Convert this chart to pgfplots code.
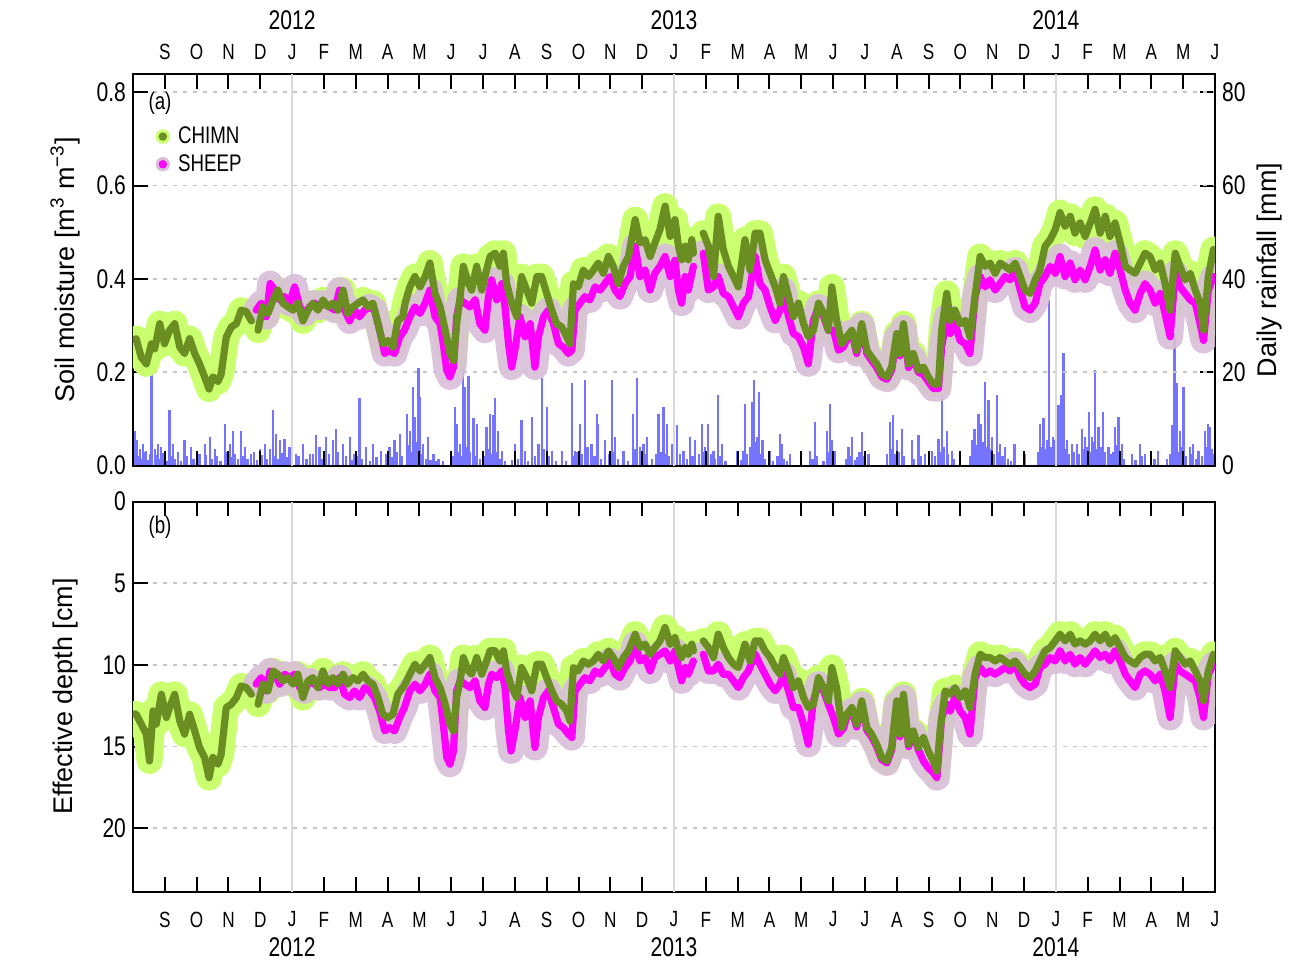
\documentclass[border=0pt]{standalone}
\usepackage{fontspec}
\setmainfont{Liberation Sans}[FakeStretch=0.78]
\newfontfamily\labfont{Liberation Sans}
\usepackage{pgfplots}
\usepackage{pgfplotstable}
\pgfplotsset{compat=1.18}
\definecolor{lgreen}{HTML}{CAFF70}
\definecolor{dgreen}{HTML}{6B8E23}
\definecolor{lpurple}{HTML}{D8BFD8}
\definecolor{mag}{HTML}{FF00FF}
\definecolor{rainblue}{HTML}{4646FF}

% CHIMN soil moisture (months since 1 Aug 2011)
\pgfplotstableread{
x y
0.05 0.27
0.10 0.272
0.26 0.232
0.42 0.218
0.58 0.261
0.68 0.25
0.84 0.304
0.99 0.261
1.15 0.29
1.31 0.304
1.47 0.254
1.62 0.24
1.78 0.272
1.94 0.24
2.09 0.218
2.25 0.19
2.39 0.164
2.51 0.19
2.67 0.18
2.77 0.196
2.93 0.275
3.09 0.297
3.25 0.304
3.40 0.333
3.56 0.33
3.72 0.31
3.80 nan
3.93 0.29
4.08 0.34
4.24 0.326
4.40 0.355
4.55 0.376
4.71 0.348
4.87 0.34
5.03 0.333
5.18 0.348
5.34 0.31
5.50 0.333
5.65 0.348
5.81 0.333
5.97 0.355
6.13 0.34
6.28 0.348
6.44 0.333
6.60 0.376
6.75 0.326
6.91 0.34
7.07 0.348
7.23 0.355
7.38 0.34
7.54 0.348
7.70 0.304
7.85 0.261
8.01 0.268
8.17 0.254
8.32 0.31
8.48 0.319
8.55 0.348
8.70 0.383
8.86 0.405
9.02 0.383
9.18 0.405
9.33 0.434
9.49 0.369
9.65 0.34
9.81 0.29
9.96 0.24
10.07 0.225
10.17 0.304
10.28 0.362
10.38 0.427
10.54 0.39
10.64 0.376
10.80 0.427
10.96 0.376
11.11 0.419
11.22 0.448
11.38 0.455
11.53 0.427
11.64 0.455
11.74 0.39
11.90 0.348
12.06 0.319
12.21 0.405
12.37 0.376
12.53 0.348
12.69 0.405
12.84 0.405
13.00 0.369
13.16 0.333
13.31 0.304
13.47 0.297
13.63 0.276
13.73 0.261
13.84 0.39
13.99 0.383
14.15 0.419
14.31 0.405
14.47 0.419
14.62 0.434
14.78 0.412
14.94 0.448
15.09 0.427
15.25 0.39
15.41 0.427
15.57 0.448
15.78 0.527
15.93 0.477
16.09 0.484
16.25 0.448
16.40 0.477
16.56 0.506
16.72 0.556
16.88 0.491
17.03 0.527
17.14 0.47
17.24 0.441
17.35 0.47
17.45 0.441
17.56 0.484
17.61 0.455
17.75 nan
17.92 0.498
18.08 0.47
18.24 0.405
18.39 0.534
18.55 0.463
18.71 0.427
18.87 0.405
19.02 0.383
19.23 0.484
19.39 0.419
19.55 0.498
19.70 0.498
19.86 0.441
20.02 0.412
20.18 0.383
20.33 0.348
20.44 0.405
20.60 0.362
20.75 0.319
20.91 0.348
21.07 0.304
21.22 0.276
21.38 0.29
21.54 0.348
21.70 0.326
21.85 0.29
21.96 0.383
22.11 0.311
22.27 0.261
22.43 0.276
22.59 0.29
22.74 0.247
22.90 0.304
23.06 0.247
23.21 0.232
23.37 0.218
23.53 0.196
23.69 0.19
23.84 0.211
24.00 0.283
24.10 0.24
24.21 0.304
24.37 0.218
24.52 0.24
24.68 0.204
24.84 0.211
24.99 0.19
25.15 0.175
25.31 0.175
25.41 0.29
25.57 0.369
25.68 0.311
25.83 0.333
25.99 0.304
26.15 0.311
26.30 0.276
26.46 0.362
26.62 0.448
26.78 0.427
26.93 0.434
27.09 0.412
27.25 0.434
27.40 0.427
27.56 0.419
27.72 0.434
27.88 0.405
28.03 0.376
28.19 0.369
28.35 0.398
28.50 0.419
28.66 0.47
28.82 0.484
28.98 0.506
29.13 0.542
29.29 0.513
29.45 0.534
29.60 0.498
29.76 0.52
29.92 0.491
30.08 0.52
30.23 0.549
30.39 0.498
30.55 0.534
30.70 0.491
30.86 0.52
31.02 0.477
31.18 0.427
31.33 0.419
31.49 0.412
31.65 0.434
31.80 0.455
31.96 0.448
32.12 0.419
32.28 0.434
32.43 0.39
32.59 0.333
32.75 0.455
32.90 0.427
33.06 0.398
33.22 0.412
33.38 0.376
33.53 0.348
33.64 0.29
33.79 0.405
33.95 0.463
}\chimnA

% SHEEP soil moisture
\pgfplotstableread{
x y
3.87 0.333
4.03 0.348
4.19 0.319
4.31 0.39
4.45 0.376
4.61 0.355
4.76 0.362
4.92 0.348
5.08 0.383
5.24 0.34
5.39 0.326
5.55 0.34
5.71 0.348
5.86 0.34
6.02 0.348
6.18 0.34
6.34 0.333
6.49 0.376
6.65 0.333
6.81 0.31
6.96 0.333
7.12 0.319
7.28 0.333
7.43 0.34
7.59 0.333
7.75 0.29
7.91 0.24
8.06 0.247
8.22 0.24
8.38 0.275
8.53 0.29
8.70 0.319
8.86 0.34
9.02 0.326
9.18 0.348
9.33 0.376
9.49 0.319
9.65 0.304
9.75 0.261
9.86 0.204
9.96 0.19
10.07 0.211
10.17 0.319
10.28 0.355
10.43 0.348
10.59 0.34
10.75 0.355
10.90 0.304
11.06 0.29
11.17 0.362
11.27 0.398
11.43 0.355
11.59 0.39
11.69 0.34
11.80 0.261
11.90 0.211
12.00 0.247
12.16 0.319
12.32 0.276
12.48 0.304
12.63 0.211
12.74 0.276
12.90 0.319
13.05 0.333
13.21 0.304
13.37 0.261
13.52 0.254
13.68 0.24
13.79 0.247
13.89 0.333
14.05 0.348
14.20 0.362
14.36 0.355
14.52 0.383
14.68 0.376
14.83 0.39
14.99 0.405
15.15 0.376
15.30 0.362
15.46 0.39
15.62 0.405
15.78 0.47
15.93 0.405
16.09 0.419
16.25 0.376
16.40 0.412
16.56 0.427
16.72 0.448
16.88 0.405
17.03 0.44
17.14 0.376
17.24 0.348
17.35 0.405
17.45 0.376
17.61 0.427
17.75 nan
17.92 0.455
18.08 0.376
18.24 0.383
18.39 0.405
18.55 0.369
18.71 0.362
18.87 0.34
19.02 0.319
19.18 0.348
19.34 0.362
19.55 0.448
19.70 0.39
19.86 0.376
20.02 0.34
20.18 0.311
20.33 0.333
20.44 0.376
20.60 0.319
20.75 0.283
20.91 0.276
21.07 0.254
21.22 0.218
21.38 0.311
21.54 0.34
21.70 0.319
21.85 0.29
22.01 0.29
22.17 0.247
22.32 0.254
22.43 0.27
22.59 0.285
22.74 0.24
22.90 0.30
23.06 0.24
23.21 0.225
23.37 0.21
23.53 0.19
23.69 0.185
23.84 0.205
24.00 0.275
24.10 0.235
24.21 0.295
24.37 0.21
24.52 0.23
24.68 0.20
24.84 0.195
24.99 0.18
25.15 0.165
25.31 0.165
25.41 0.254
25.57 0.319
25.68 0.283
25.83 0.304
25.99 0.268
26.15 0.261
26.30 0.24
26.46 0.362
26.62 0.405
26.78 0.383
26.93 0.398
27.09 0.376
27.25 0.39
27.40 0.405
27.56 0.398
27.72 0.419
27.88 0.376
28.03 0.34
28.19 0.333
28.35 0.348
28.50 0.39
28.66 0.405
28.82 0.427
28.98 0.412
29.13 0.448
29.29 0.405
29.45 0.434
29.60 0.398
29.76 0.419
29.92 0.398
30.08 0.427
30.23 0.462
30.39 0.419
30.55 0.441
30.70 0.412
30.86 0.455
31.02 0.419
31.18 0.376
31.33 0.348
31.49 0.333
31.65 0.369
31.80 0.39
31.96 0.376
32.12 0.348
32.28 0.369
32.43 0.326
32.59 0.276
32.75 0.412
32.90 0.383
33.06 0.369
33.22 0.355
33.38 0.348
33.53 0.304
33.64 0.268
33.79 0.376
33.95 0.405
}\sheepA

% CHIMN effective depth
\pgfplotstableread{
x y
0.05 13.0
0.10 13.02
0.26 13.63
0.42 14.24
0.52 15.88
0.63 12.82
0.73 13.63
0.89 11.8
1.05 13.22
1.15 12.61
1.31 11.8
1.47 13.43
1.62 14.24
1.78 13.02
1.94 14.04
2.09 15.06
2.25 15.67
2.39 16.9
2.51 15.67
2.67 16.08
2.77 15.47
2.93 12.61
3.09 12.41
3.25 12.0
3.40 11.29
3.56 11.39
3.72 11.8
3.80 nan
3.93 12.41
4.08 11.18
4.24 11.59
4.40 10.37
4.55 10.57
4.71 10.98
4.87 10.78
5.03 11.18
5.18 10.57
5.34 12.0
5.50 10.98
5.65 10.78
5.81 11.39
5.97 10.37
6.13 11.18
6.28 10.78
6.44 11.18
6.60 10.57
6.75 11.18
6.91 10.78
7.07 10.98
7.23 10.57
7.38 10.98
7.54 11.18
7.70 12.0
7.85 13.02
8.01 13.22
8.17 13.02
8.32 11.8
8.48 11.39
8.55 11.18
8.70 10.57
8.86 9.96
9.02 10.37
9.18 9.96
9.33 9.55
9.49 10.78
9.65 11.39
9.81 12.41
9.96 13.63
10.07 14.04
10.17 12.0
10.28 10.98
10.38 9.55
10.54 10.37
10.64 10.57
10.80 9.55
10.96 10.57
11.11 9.76
11.22 9.14
11.38 9.14
11.53 9.76
11.64 9.14
11.74 10.37
11.90 11.39
12.06 12.0
12.21 10.16
12.37 10.78
12.53 11.59
12.69 9.96
12.84 9.96
13.00 10.78
13.16 11.59
13.31 12.2
13.47 12.41
13.63 12.82
13.73 13.43
13.84 10.16
13.99 10.37
14.15 9.76
14.31 9.96
14.47 9.76
14.62 9.35
14.78 9.76
14.94 9.14
15.09 9.55
15.25 10.16
15.41 9.55
15.57 9.14
15.78 8.12
15.93 8.94
16.09 8.73
16.25 9.35
16.40 8.94
16.56 8.53
16.72 7.71
16.88 8.73
17.03 8.33
17.14 9.14
17.24 9.55
17.35 8.94
17.45 9.35
17.56 8.73
17.61 9.14
17.75 nan
17.92 8.53
18.08 8.94
18.24 9.55
18.39 8.12
18.55 8.94
18.71 9.55
18.87 9.96
19.02 10.16
19.23 8.73
19.39 9.76
19.55 8.53
19.70 8.53
19.86 9.14
20.02 9.55
20.18 10.16
20.33 10.57
20.44 9.55
20.60 10.37
20.75 11.39
20.91 10.98
21.07 12.0
21.22 12.61
21.38 12.41
21.54 10.78
21.70 11.39
21.85 12.2
21.96 10.16
22.11 11.39
22.27 13.84
22.43 13.02
22.59 12.61
22.74 13.63
22.90 12.2
23.06 13.84
23.21 14.24
23.37 14.86
23.53 15.67
23.69 15.88
23.84 15.06
24.00 12.2
24.10 14.24
24.21 11.8
24.37 14.86
24.52 14.04
24.68 15.06
24.84 14.45
24.99 15.27
25.15 15.88
25.26 16.49
25.36 14.04
25.52 11.59
25.68 11.8
25.83 11.39
25.99 12.0
26.15 11.59
26.30 12.61
26.46 10.57
26.62 9.35
26.78 9.55
26.93 9.55
27.09 9.76
27.25 9.55
27.40 9.76
27.56 9.96
27.72 9.76
27.88 10.16
28.03 10.57
28.19 10.78
28.35 10.37
28.50 9.76
28.66 9.14
28.82 8.94
28.98 8.53
29.13 8.12
29.29 8.53
29.45 8.12
29.60 8.73
29.76 8.53
29.92 8.73
30.08 8.53
30.23 8.12
30.39 8.53
30.55 8.12
30.70 8.73
30.86 8.33
31.02 8.94
31.18 9.55
31.33 9.76
31.49 9.96
31.65 9.55
31.80 9.35
31.96 9.35
32.12 9.76
32.28 9.55
32.43 10.37
32.59 11.39
32.75 9.14
32.90 9.55
33.06 9.96
33.22 9.76
33.38 10.37
33.53 10.98
33.64 12.2
33.79 10.37
33.95 9.35
}\chimnB

% SHEEP effective depth
\pgfplotstableread{
x y
3.87 11.18
4.03 10.78
4.19 11.59
4.31 10.37
4.45 10.57
4.61 11.18
4.76 10.57
4.92 10.78
5.08 10.57
5.24 11.39
5.39 11.59
5.55 10.98
5.71 11.18
5.86 11.39
6.02 11.18
6.18 11.39
6.34 11.39
6.49 10.78
6.65 11.8
6.81 12.0
6.96 11.59
7.12 12.0
7.28 11.39
7.43 11.59
7.59 12.0
7.75 12.82
7.91 14.04
8.06 13.84
8.22 14.04
8.38 13.22
8.53 12.61
8.70 11.59
8.86 11.18
9.02 11.59
9.18 11.18
9.33 10.57
9.49 11.59
9.65 12.0
9.75 13.63
9.86 15.67
9.96 16.08
10.07 15.27
10.17 11.59
10.28 10.98
10.43 11.18
10.59 11.39
10.75 10.98
10.90 12.2
11.06 12.61
11.17 11.18
11.27 10.57
11.43 10.78
11.59 10.37
11.69 11.39
11.80 14.04
11.88 15.27
12.00 14.04
12.16 12.0
12.32 13.22
12.48 12.2
12.63 15.06
12.74 13.22
12.90 12.0
13.05 11.59
13.21 12.61
13.37 13.63
13.52 13.84
13.68 14.24
13.79 14.45
13.89 11.59
14.05 11.18
14.20 10.78
14.36 10.98
14.52 10.37
14.68 10.57
14.83 10.16
14.99 9.76
15.15 10.57
15.30 10.78
15.46 10.16
15.62 9.76
15.78 8.73
15.93 9.76
16.09 9.55
16.25 10.37
16.40 9.55
16.56 9.35
16.72 9.14
16.88 9.76
17.03 9.14
17.14 10.16
17.24 10.98
17.35 10.16
17.45 10.57
17.61 9.76
17.75 nan
17.92 9.35
18.08 10.37
18.24 10.37
18.39 9.96
18.55 10.57
18.71 10.57
18.87 10.98
19.02 11.39
19.18 10.78
19.34 10.37
19.55 9.35
19.70 9.96
19.86 10.57
20.02 11.18
20.18 11.59
20.33 11.18
20.44 10.57
20.60 11.59
20.75 12.61
20.91 12.61
21.07 13.63
21.22 14.86
21.38 12.2
21.54 11.18
21.70 11.59
21.85 12.41
22.01 13.22
22.17 14.24
22.32 13.9
22.43 13.2
22.59 12.8
22.74 13.8
22.90 12.4
23.06 14.0
23.21 14.4
23.37 15.0
23.53 15.8
23.69 16.0
23.84 15.2
24.00 12.4
24.10 14.4
24.21 12.0
24.37 15.0
24.52 14.2
24.68 15.2
24.84 15.9
24.99 16.3
25.15 16.6
25.26 16.9
25.36 14.5
25.41 13.22
25.57 12.41
25.68 12.82
25.83 12.0
25.99 12.82
26.15 13.22
26.30 14.24
26.46 10.78
26.62 10.16
26.78 10.57
26.93 10.37
27.09 10.57
27.25 10.37
27.40 10.16
27.56 10.37
27.72 9.96
27.88 10.78
28.03 11.18
28.19 11.39
28.35 11.18
28.50 10.16
28.66 9.96
28.82 9.55
28.98 9.76
29.13 9.14
29.29 9.76
29.45 9.35
29.60 9.96
29.76 9.55
29.92 9.96
30.08 9.55
30.23 9.14
30.39 9.55
30.55 9.35
30.70 9.76
30.86 9.14
31.02 9.76
31.18 10.57
31.33 10.98
31.49 11.39
31.65 10.57
31.80 10.37
31.96 10.57
32.12 10.98
32.28 10.57
32.43 11.59
32.59 13.22
32.75 9.96
32.90 10.37
33.06 10.57
33.22 10.78
33.38 10.98
33.53 12.0
33.64 13.22
33.79 10.57
33.95 9.96
}\sheepB

% daily rainfall (mm)
\pgfplotstableread{
x y
0.05 7.5
0.13 5.4
0.21 3.6
0.31 4.7
0.42 3.2
0.58 21.2
0.68 3.6
0.79 4.7
0.89 4.0
1.15 11.9
1.26 4.7
1.41 2.9
1.62 5.4
1.83 4.0
2.09 2.5
2.25 4.7
2.41 6.1
2.57 3.6
2.88 9.0
3.04 4.7
3.14 7.5
3.40 7.5
3.51 4.0
3.72 2.5
3.98 3.6
4.14 4.7
4.40 11.9
4.50 6.8
4.61 5.4
4.76 5.8
4.92 4.0
5.13 2.5
5.34 4.7
5.55 2.5
5.76 6.5
5.86 4.0
6.07 6.1
6.28 5.4
6.39 7.9
6.60 4.7
6.81 6.1
6.96 2.5
7.12 14.4
7.33 4.0
7.54 4.7
7.80 3.2
8.06 4.0
8.22 5.4
8.38 6.8
8.60 11.1
8.70 7.5
8.81 16.9
8.86 10.4
8.97 20.9
9.02 14.7
9.12 4.7
9.28 6.1
9.44 2.5
9.60 1.4
10.12 12.6
10.17 9.0
10.28 4.7
10.38 23.0
10.43 16.9
10.54 19.1
10.70 10.1
10.80 9.0
11.11 8.3
11.22 11.1
11.32 10.8
11.38 14.4
11.48 7.5
11.59 3.2
12.00 4.7
12.21 9.7
12.32 3.2
12.53 10.4
12.74 4.7
12.84 18.7
13.00 12.6
13.16 3.2
13.47 3.2
13.79 17.6
13.89 3.2
14.05 9.0
14.20 18.3
14.41 4.7
14.57 11.1
14.62 9.0
14.83 5.4
15.04 18.3
15.15 6.1
15.41 3.2
15.72 11.1
15.83 18.7
16.04 4.7
16.14 6.1
16.51 11.1
16.67 12.6
16.77 9.0
16.93 4.7
17.09 8.6
17.30 3.2
17.50 6.1
17.66 5.4
17.87 9.0
17.98 4.0
18.08 9.0
18.24 3.2
18.39 15.1
18.50 4.7
18.97 3.2
19.18 3.2
19.23 13.3
19.44 13.7
19.52 18.3
19.60 6.1
19.67 15.8
19.78 5.4
20.02 3.2
20.33 6.8
20.39 4.7
20.65 2.5
21.28 3.2
21.43 9.3
21.80 7.5
21.90 13.3
21.96 5.4
22.06 3.2
22.48 4.0
22.59 6.1
22.74 1.8
22.90 7.2
23.11 2.5
23.79 9.3
23.89 10.8
24.00 5.4
24.16 7.9
24.47 5.4
24.68 6.5
24.89 2.5
25.10 3.2
25.31 5.8
25.41 21.6
25.57 7.5
25.73 3.2
26.36 5.4
26.44 7.9
26.57 11.1
26.65 9.0
26.76 18.0
26.88 14.0
26.99 6.1
27.14 15.1
27.25 4.7
27.40 4.0
27.70 4.7
28.03 2.5
28.50 9.0
28.61 10.1
28.71 5.4
28.79 35.5
28.92 6.1
29.08 12.9
29.15 15.1
29.24 24.1
29.34 5.4
29.50 4.7
29.66 4.7
29.81 7.9
29.92 6.1
30.04 11.5
30.13 6.1
30.23 20.5
30.34 8.3
30.49 11.5
30.65 4.0
30.86 8.3
30.97 10.4
31.07 4.7
31.39 2.5
31.65 4.7
31.80 2.5
32.22 3.2
32.64 8.6
32.73 28.4
32.80 17.6
32.90 7.5
33.01 16.9
33.22 4.0
33.32 4.7
33.48 3.2
33.69 7.5
33.79 9.0
33.85 8.3
0.17 2.0
0.25 1.5
0.36 3.0
0.47 1.2
0.53 2.5
0.73 2.2
0.84 1.5
0.95 2.8
1.05 1.0
1.20 2.0
1.33 1.5
1.50 1.0
1.70 2.0
1.90 1.5
2.00 1.0
2.30 2.2
2.47 1.5
2.65 2.0
2.75 1.0
2.95 3.0
3.09 1.8
3.20 2.5
3.30 1.5
3.45 2.0
3.60 1.5
3.80 3.0
3.90 1.2
4.05 2.2
4.20 1.5
4.30 3.5
4.45 2.0
4.55 1.5
4.68 2.6
4.83 1.8
5.00 1.2
5.20 2.0
5.45 1.5
5.65 2.5
5.95 1.5
6.15 2.5
6.45 3.0
6.70 2.0
6.88 1.2
7.05 2.0
7.20 1.5
7.45 1.0
7.65 1.8
7.95 2.5
8.12 1.8
8.30 3.0
8.45 2.0
8.65 4.5
8.76 3.0
8.92 5.0
9.07 2.5
9.20 1.5
9.35 1.2
9.52 1.0
9.75 1.0
10.05 2.0
10.22 3.0
10.33 2.0
10.48 4.0
10.60 3.0
10.75 2.0
10.90 1.5
11.03 2.0
11.16 3.5
11.27 2.5
11.43 3.0
11.53 1.5
11.70 1.0
11.90 1.2
12.10 1.5
12.40 1.0
12.62 2.0
12.90 3.5
13.07 2.0
13.30 1.0
13.60 1.0
13.84 2.0
13.97 3.0
14.12 2.5
14.28 4.0
14.50 2.0
14.70 1.5
14.95 2.5
15.10 3.0
15.25 1.5
15.55 1.0
15.78 3.5
15.92 4.0
16.10 2.5
16.30 1.5
16.45 2.5
16.60 3.0
16.72 2.5
16.85 2.0
17.00 3.0
17.18 2.5
17.40 1.5
17.58 2.0
17.78 2.5
17.92 3.0
18.03 2.0
18.15 2.5
18.30 1.5
18.45 2.0
18.62 1.0
19.10 1.2
19.30 2.5
19.38 4.0
19.48 3.0
19.56 5.0
19.72 2.5
19.85 1.5
20.10 1.0
20.25 2.0
20.45 1.5
20.55 1.0
21.35 1.5
21.50 2.0
21.70 1.0
21.85 3.0
22.00 2.0
22.40 1.5
22.53 2.0
22.68 1.2
22.83 3.0
22.97 2.0
23.70 2.5
23.84 3.5
23.95 2.5
24.06 3.0
24.22 2.0
24.55 1.5
24.75 2.0
25.20 2.0
25.35 3.0
25.47 4.0
25.62 2.5
25.80 1.5
26.30 2.0
26.40 3.0
26.50 4.5
26.60 3.0
26.70 5.0
26.82 4.0
26.93 3.5
27.05 2.5
27.20 3.0
27.32 2.0
27.50 1.5
27.60 1.0
28.45 3.0
28.55 4.0
28.66 3.5
28.75 2.5
28.85 4.0
28.97 5.5
29.03 3.0
29.11 4.5
29.19 6.0
29.29 3.5
29.40 2.5
29.56 3.0
29.72 2.5
29.87 3.5
29.98 4.0
30.08 3.0
30.18 5.0
30.28 3.5
30.40 4.0
30.55 3.0
30.72 2.5
30.80 3.0
30.92 4.5
31.02 2.5
31.15 1.5
31.50 1.2
31.70 2.0
32.10 1.5
32.50 1.5
32.58 2.5
32.68 4.0
32.77 5.5
32.85 3.0
32.95 4.0
33.07 2.0
33.27 2.5
33.40 1.5
33.60 2.0
33.74 4.0
33.90 3.5
33.96 2.5
}\rain

\pgfplotsset{
  base/.style={
    scale only axis, width=541pt, xmin=0, xmax=34,
    xtick={1,...,34},
    xticklabels={S,O,N,D,J,F,M,A,M,J,J,A,S,O,N,D,J,F,M,A,M,J,J,A,S,O,N,D,J,F,M,A,M,J},
    tick align=inside, major tick length=7.5pt,
    axis line style={line width=1pt},
    every tick/.style={black, line width=1pt},
    ticklabel style={font=\fontsize{13.5}{15}\selectfont},
    xticklabel style={font=\fontsize{11}{13}\selectfont},
    /pgf/number format/assume math mode=true,
    unbounded coords=jump,
    clip mode=individual,
    grid style={gray!45, line width=0.9pt, dash pattern=on 2pt off 3pt},
    extra x ticks={5,17,29}, extra x tick labels={},
    extra x tick style={grid=major, major grid style={solid, gray!30, line width=0.9pt}, major tick length=0pt},
    ylabel style={font=\labfont\fontsize{13.5}{16}\selectfont},
  },
  band/.style={line width=13pt, line join=round, line cap=round, forget plot},
  line/.style={line width=3.6pt, line join=round, line cap=round, forget plot},
}

\begin{document}
\begin{tikzpicture}
\path[use as bounding box] (0,0) rectangle (647.5pt,481.5pt);

% rainfall axis (right)
\begin{axis}[scale only axis, width=541pt, height=195.8pt,
  at={(66.5pt,248.7pt)}, anchor=south west,
  xmin=0, xmax=34, ymin=0, ymax=83.9,
  axis x line=none, axis y line*=right,
  ytick={0,20,40,60,80}, tick align=inside, major tick length=7.5pt,
  axis line style={line width=1pt},
  every tick/.style={black, line width=1pt},
  ticklabel style={font=\fontsize{13.5}{15}\selectfont},
  /pgf/number format/assume math mode=true,
  ylabel={Daily rainfall [mm]},
  ylabel style={font=\labfont\fontsize{13.5}{16}\selectfont, at={(axis description cs:1.0508,0.5)}, anchor=center},
]
\addplot[ycomb, rainblue, line width=1.1pt, opacity=0.75] table {\rain};
\end{axis}

% soil moisture axis (top)
\begin{axis}[base, at={(66.5pt,248.7pt)}, anchor=south west, height=195.8pt,
  ymin=0, ymax=0.839, ytick={0,0.2,0.4,0.6,0.8}, ytick pos=left,
  yticklabel style={/pgf/number format/.cd, fixed, fixed zerofill, precision=1},
  ymajorgrids,
  xticklabel pos=right, xtick pos=both,
  xticklabel style={anchor=center, yshift=11pt},
  ylabel={Soil moisture [m\textsuperscript{3} m\textsuperscript{−3}]},
  ylabel style={at={(axis description cs:-0.0628,0.5)}, anchor=center},
  legend style={draw=none, fill=none, at={(axis description cs:0.015,0.887)}, anchor=north west,
    font=\fontsize{12}{14}\selectfont, row sep=0pt,
    /tikz/every odd column/.style={column sep=2pt}},
  legend cell align=left,
]
\addlegendimage{legend image code/.code={\fill[lgreen] (0.35em,0) circle (3.4pt); \fill[dgreen] (0.35em,0) circle (1.9pt);}}
\addlegendentry{CHIMN}
\addlegendimage{legend image code/.code={\fill[lpurple] (0.35em,0) circle (3.4pt); \fill[mag] (0.35em,0) circle (1.9pt);}}
\addlegendentry{SHEEP}
\addplot[band, lgreen] table {\chimnA};
\addplot[band, lpurple, opacity=0.9] table {\sheepA};
\addplot[line, mag] table {\sheepA};
\addplot[line, dgreen] table {\chimnA};
\node[font=\fontsize{12}{14}\selectfont] at (axis description cs:0.025,0.926) {(a)};
\node[font=\fontsize{13.5}{15}\selectfont] at ([yshift=27pt]axis description cs:0.14706,1) {2012};
\node[font=\fontsize{13.5}{15}\selectfont] at ([yshift=27pt]axis description cs:0.5,1) {2013};
\node[font=\fontsize{13.5}{15}\selectfont] at ([yshift=27pt]axis description cs:0.85294,1) {2014};
\end{axis}

% effective depth axis (bottom)
\begin{axis}[base, at={(66.5pt,35.75pt)}, anchor=south west, height=195pt,
  ymin=0, ymax=23.87, y dir=reverse, ytick={0,5,10,15,20}, ytick pos=left,
  ymajorgrids,
  xticklabel pos=left, xtick pos=both,
  xticklabel style={anchor=center, yshift=-14pt},
  ylabel={Effective depth [cm]},
  ylabel style={at={(axis description cs:-0.0628,0.5)}, anchor=center},
]
\addplot[band, lgreen] table {\chimnB};
\addplot[band, lpurple, opacity=0.9] table {\sheepB};
\addplot[line, mag] table {\sheepB};
\addplot[line, dgreen] table {\chimnB};
\node[font=\fontsize{12}{14}\selectfont] at (axis description cs:0.025,0.933) {(b)};
\node[font=\fontsize{13.5}{15}\selectfont] at ([yshift=-28pt]axis description cs:0.14706,0) {2012};
\node[font=\fontsize{13.5}{15}\selectfont] at ([yshift=-28pt]axis description cs:0.5,0) {2013};
\node[font=\fontsize{13.5}{15}\selectfont] at ([yshift=-28pt]axis description cs:0.85294,0) {2014};
\end{axis}
\end{tikzpicture}
\end{document}
